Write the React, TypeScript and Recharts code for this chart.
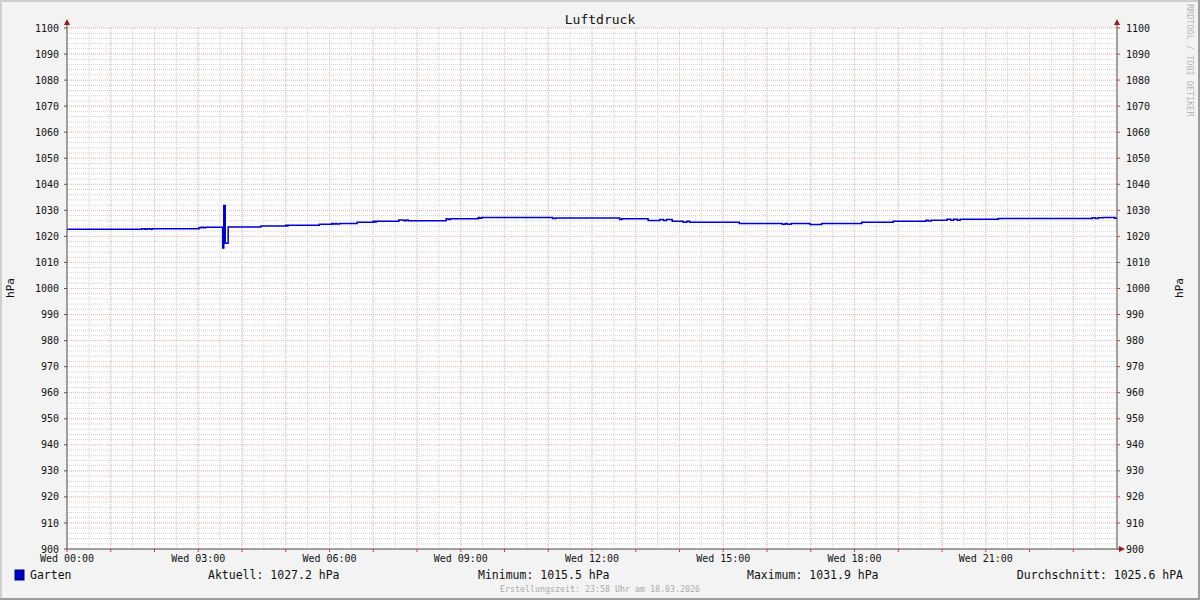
import React from 'react';
import { LineChart, Line, XAxis, YAxis, CartesianGrid } from 'recharts';

// minutes since midnight
const minutes = [
  0, 103, 107, 110, 114, 117, 181, 184, 187, 190, 213.5, 215, 217, 221,
  266, 300, 302, 303, 346, 363, 365, 368, 370, 374, 398, 420, 422, 424,
  455, 462, 465, 468, 520, 523, 526, 564, 566, 569, 666, 670, 758, 761,
  797, 813, 818, 822, 830, 845, 850, 854, 861, 922, 981, 985, 988, 993,
  996, 1019, 1035, 1090, 1133, 1178, 1181, 1185, 1188, 1207, 1212, 1216,
  1221, 1225, 1277, 1406, 1410, 1414, 1421, 1437, 1440,
];

// air pressure in hPa for each time above
const pressure = [
  1022.7, 1022.95, 1022.7, 1022.95, 1022.7, 1022.9, 1023.3, 1023.5, 1023.3, 1023.5, 1015.5, 1031.9, 1017.4, 1023.6,
  1024.0, 1024.3, 1024.0, 1024.3, 1024.7, 1025.0, 1024.8, 1025.0, 1024.8, 1025.0, 1025.4, 1025.8, 1025.5, 1025.8,
  1026.3, 1026.0, 1026.3, 1026.0, 1026.8, 1026.5, 1026.8, 1027.3, 1027.0, 1027.3, 1026.9, 1027.1, 1026.5, 1026.8,
  1026.1, 1026.5, 1026.1, 1026.5, 1025.8, 1025.4, 1025.8, 1025.4, 1025.4, 1025.0, 1024.7, 1025.0, 1024.7, 1025.0,
  1025.0, 1024.6, 1025.0, 1025.4, 1025.8, 1026.2, 1025.9, 1026.2, 1026.2, 1026.6, 1026.2, 1026.6,
  1026.2, 1026.6, 1026.9, 1027.2, 1026.9, 1027.2, 1027.3, 1027.0, 1027.2,
];

const hourTicks = [
  0, 60, 120, 180, 240, 300, 360, 420, 480, 540, 600, 660, 720, 780, 840, 900,
  960, 1020, 1080, 1140, 1200, 1260, 1320, 1380,
];
const xLabels: Record<number, string> = {
  0: 'Wed 00:00',
  180: 'Wed 03:00',
  360: 'Wed 06:00',
  540: 'Wed 09:00',
  720: 'Wed 12:00',
  900: 'Wed 15:00',
  1080: 'Wed 18:00',
  1260: 'Wed 21:00',
};
const yTicks = [
  900, 910, 920, 930, 940, 950, 960, 970, 980, 990, 1000, 1010, 1020, 1030,
  1040, 1050, 1060, 1070, 1080, 1090, 1100,
];

const data = minutes.map((t, i) => ({ t, v: pressure[i] }));

// grid positions (minor: 2 hPa / 30 min, major: 10 hPa / 1 h)
const minorY: number[] = [];
for (let v = 900; v <= 1100; v += 2) minorY.push(v);
const minorX: number[] = [];
for (let m = 0; m <= 1440; m += 30) minorX.push(m);

const FONT = '"DejaVu Sans Mono", monospace';
const AXIS = '#555';
const TICK_RED = '#d04040';

const tickStyle = { fontFamily: FONT, fontSize: 10, fill: '#111' };

const App: React.FC = () => {
  return (
    <div style={{ position: 'relative', width: 1200, height: 600, background: '#f3f3f3' }}>
      <style>{'body{margin:0}'}</style>
      <LineChart
        width={1200}
        height={600}
        data={data}
        margin={{ top: 28, right: 23, bottom: 21, left: 7 }}
      >
        <CartesianGrid
          yAxisId="left"
          fill="#ffffff"
          stroke="#d2d2d2"
          strokeDasharray="1 1"
          horizontalValues={minorY}
          verticalValues={minorX}
        />
        <CartesianGrid
          yAxisId="left"
          stroke="#f0bcbc"
          strokeDasharray="1 1"
          horizontalValues={yTicks}
          verticalValues={hourTicks}
        />
        <XAxis
          dataKey="t"
          type="number"
          domain={[0, 1440]}
          ticks={hourTicks}
          interval={0}
          tickFormatter={(m: number) => xLabels[m] ?? ''}
          tick={tickStyle}
          tickSize={3}
          tickMargin={3}
          tickLine={{ stroke: TICK_RED }}
          axisLine={{ stroke: AXIS }}
          height={30}
          allowDataOverflow
        />
        <YAxis
          yAxisId="left"
          domain={[900, 1100]}
          ticks={yTicks}
          interval={0}
          tick={tickStyle}
          tickSize={3}
          tickMargin={5}
          tickLine={{ stroke: AXIS }}
          axisLine={{ stroke: AXIS }}
          width={60}
          allowDataOverflow
        />
        <YAxis
          yAxisId="right"
          orientation="right"
          domain={[900, 1100]}
          ticks={yTicks}
          interval={0}
          tick={{ ...tickStyle, textAnchor: 'start' }}
          tickSize={3}
          tickMargin={6}
          tickLine={{ stroke: TICK_RED }}
          axisLine={{ stroke: AXIS }}
          width={60}
          allowDataOverflow
        />
        <Line
          yAxisId="left"
          dataKey="v"
          type="stepAfter"
          stroke="#0000cc"
          strokeWidth={1.5}
          dot={false}
          activeDot={false}
          isAnimationActive={false}
        />
      </LineChart>

      {/* RRDtool-style decorations: title, arrows, legend, footer */}
      <svg
        width={1200}
        height={600}
        style={{ position: 'absolute', left: 0, top: 0, pointerEvents: 'none' }}
      >
        <text x={600} y={24} textAnchor="middle" fontFamily={FONT} fontSize={13} fill="#111">
          Luftdruck
        </text>
        <line x1={67} y1={21} x2={67} y2={28} stroke={AXIS} />
        <line x1={1117} y1={21} x2={1117} y2={28} stroke={AXIS} />
        <line x1={1117} y1={549} x2={1122} y2={549} stroke={AXIS} />
        <polygon points="64,25 70,25 67,19" fill="#9a1a1a" />
        <polygon points="1114,25 1120,25 1117,19" fill="#9a1a1a" />
        <polygon points="1119,546 1119,552 1125,549" fill="#9a1a1a" />
        <text
          x={14}
          y={288}
          textAnchor="middle"
          fontFamily={FONT}
          fontSize={11}
          fill="#111"
          transform="rotate(-90 14 288)"
        >
          hPa
        </text>
        <text
          x={1183}
          y={288}
          textAnchor="middle"
          fontFamily={FONT}
          fontSize={11}
          fill="#111"
          transform="rotate(-90 1183 288)"
        >
          hPa
        </text>
        <text
          x={1187}
          y={4}
          fontFamily={FONT}
          fontSize={8.5}
          fill="#b8b8b8"
          transform="rotate(90 1187 4)"
        >
          RRDTOOL / TOBI OETIKER
        </text>
        <rect x={15} y={570} width={9} height={10} fill="#0000cc" stroke="#000066" strokeWidth={1} />
        <g fontFamily={FONT} fontSize={11.5} fill="#111">
          <text x={30} y={579}>Garten</text>
          <text x={208} y={579}>Aktuell: 1027.2 hPa</text>
          <text x={478} y={579}>Minimum: 1015.5 hPa</text>
          <text x={747} y={579}>Maximum: 1031.9 hPa</text>
          <text x={1183} y={579} textAnchor="end">Durchschnitt: 1025.6 hPA</text>
        </g>
        <text x={600} y={592} textAnchor="middle" fontFamily={FONT} fontSize={8.3} fill="#aaaaaa">
          Erstellungszeit: 23:58 Uhr am 18.03.2026
        </text>
        <rect x={1} y={1} width={1198} height={598} fill="none" stroke="#cfcfcf" strokeWidth={2} />
        <line x1={0} y1={599} x2={1200} y2={599} stroke="#9c9c9c" strokeWidth={2} />
        <line x1={1199} y1={0} x2={1199} y2={600} stroke="#9c9c9c" strokeWidth={2} />
      </svg>
    </div>
  );
};

export default App;
